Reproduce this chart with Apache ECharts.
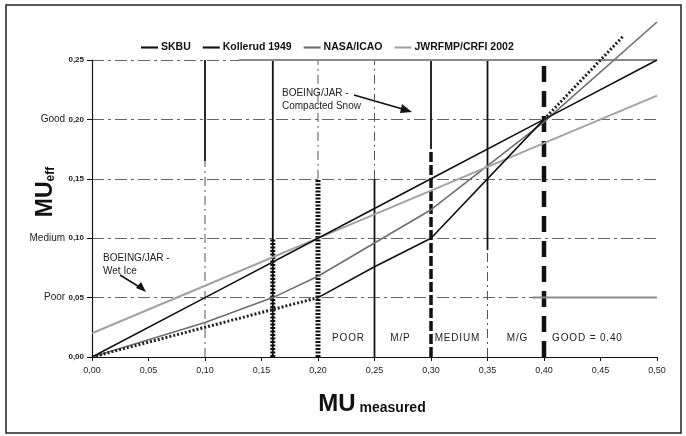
<!DOCTYPE html>
<html>
<head>
<meta charset="utf-8">
<script src="https://cdn.jsdelivr.net/npm/echarts@6.0.0/dist/echarts.min.js"></script>
<style>
  html, body { margin: 0; padding: 0; background: #fff; }
  #chart { width: 686px; height: 436px; }
</style>
</head>
<body>
<div id="chart"></div>
<script>
// series values: [MU measured, MU eff]
var skbuDottedLow = [[0, 0], [0.1, 0.025], [0.16, 0.04], [0.2, 0.05]];
var skbuSolid = [[0.2, 0.05], [0.25, 0.076], [0.3, 0.1], [0.4, 0.2]];
var skbuDottedHigh = [[0.4, 0.2], [0.47, 0.27]];
var kollerud = [[0, 0], [0.1, 0.05], [0.2, 0.1], [0.3, 0.15], [0.4, 0.2], [0.5, 0.25]];
var nasa = [[0, 0], [0.1, 0.029], [0.16, 0.05], [0.2, 0.068], [0.25, 0.096], [0.3, 0.124], [0.4, 0.198], [0.5, 0.282]];
var jwrfmp = [[0, 0.02], [0.1, 0.06], [0.2, 0.1], [0.3, 0.14], [0.4, 0.18], [0.5, 0.22]];

// vertical limit lines: [x, yFrom, yTo]
var thinVerticals = [[0.1, 0.165, 0.25], [0.16, 0, 0.25], [0.25, 0, 0.15], [0.3, 0.175, 0.25], [0.35, 0.09, 0.25]];
var dottedVerticals = [[0.16, 0, 0.1], [0.2, 0, 0.15]];
var dashedVerticals = [[0.3, 0, 0.175], [0.4, 0, 0.245]];
var gridVerticals = [[0.1, 0, 0.165], [0.2, 0.15, 0.25], [0.25, 0.15, 0.25], [0.35, 0, 0.09]];
// gray horizontal limits: [y, xFrom, xTo]
var grayHorizontals = [[0.25, 0.13, 0.5], [0.05, 0.39, 0.5]];

var legendNames = ['SKBU', 'Kollerud 1949', 'NASA/ICAO', 'JWRFMP/CRFI 2002'];
var yTickWords = ['', 'Poor', 'Medium', '', 'Good', ''];
var zoneLabels = ['POOR', 'M/P', 'MEDIUM', 'M/G', 'GOOD = 0.40'];

var myChart = echarts.init(document.getElementById('chart'), null, { renderer: 'canvas' });

function comma(v) {
  return v.toFixed(2).replace('.', ',');
}

function seg(data, style, z) {
  return {
    type: 'line', data: data, symbol: 'none', silent: true, clip: false,
    z: z || 2, lineStyle: style, animation: false
  };
}

var series = [
  { name: 'SKBU', type: 'line', data: skbuSolid, symbol: 'none', color: '#111', lineStyle: { width: 1.6, color: '#111' }, z: 4 },
  { name: 'Kollerud 1949', type: 'line', data: kollerud, symbol: 'none', color: '#111', lineStyle: { width: 1.6, color: '#111' }, z: 4 },
  { name: 'NASA/ICAO', type: 'line', data: nasa, symbol: 'none', clip: false, color: '#6e6e6e', lineStyle: { width: 1.6, color: '#6e6e6e' }, z: 3 },
  { name: 'JWRFMP/CRFI 2002', type: 'line', data: jwrfmp, symbol: 'none', color: '#a2a2a2', lineStyle: { width: 2, color: '#a2a2a2' }, z: 3 },
  seg(skbuDottedLow, { width: 3, color: '#222', type: [2, 2] }, 4),
  seg(skbuDottedHigh, { width: 3, color: '#222', type: [2, 2] }, 4)
];

gridVerticals.forEach(function (v) {
  series.push(seg([[v[0], v[1]], [v[0], v[2]]], { width: 1, color: '#555', type: [9, 4, 2, 4] }, 1));
});
thinVerticals.forEach(function (v) {
  series.push(seg([[v[0], v[1]], [v[0], v[2]]], { width: 1.8, color: '#111' }, 2));
});
dottedVerticals.forEach(function (v) {
  series.push(seg([[v[0], v[1]], [v[0], v[2]]], { width: 5, color: '#111', type: [2, 1.5] }, 2));
});
dashedVerticals.forEach(function (v, i) {
  series.push(seg([[v[0], v[1]], [v[0], v[2]]], { width: i ? 4.5 : 3.5, color: '#111', type: i ? [16, 9] : [10, 3] }, 2));
});
grayHorizontals.forEach(function (h) {
  series.push(seg([[h[1], h[0]], [h[2], h[0]]], { width: 2, color: '#8a8a8a' }, 2));
});

var zoneX = [348, 400, 457, 517, 587];
var graphics = [
  { type: 'rect', shape: { x: 6, y: 5, width: 675, height: 428 }, style: { fill: 'none', stroke: '#222', lineWidth: 1.5 }, silent: true },
  { type: 'text', x: 46, y: 192, rotation: Math.PI / 2,
    style: { text: '{a|MU}{b|eff}', align: 'center', verticalAlign: 'middle',
      rich: { a: { fontSize: 23, fontWeight: 'bold', fill: '#111', fontFamily: 'Liberation Sans' },
              b: { fontSize: 12, fontWeight: 'bold', fill: '#111', fontFamily: 'Liberation Sans', padding: [10, 0, 0, 0] } } } },
  { type: 'text', x: 372, y: 404,
    style: { text: '{a|MU}{b| measured}', align: 'center', verticalAlign: 'middle',
      rich: { a: { fontSize: 24, fontWeight: 'bold', fill: '#111', fontFamily: 'Liberation Sans' },
              b: { fontSize: 14, fontWeight: 'bold', fill: '#111', fontFamily: 'Liberation Sans', padding: [8, 0, 0, 0] } } } },
  { type: 'text', x: 282, y: 87, style: { text: 'BOEING/JAR -\nCompacted Snow', fill: '#222', fontSize: 10, lineHeight: 13, fontFamily: 'Liberation Sans' } },
  { type: 'line', shape: { x1: 354, y1: 95, x2: 406, y2: 110 }, style: { stroke: '#111', lineWidth: 1.8 } },
  { type: 'polygon', shape: { points: [[412, 112], [402, 104], [400, 113]] }, style: { fill: '#111' } },
  { type: 'text', x: 103, y: 252, style: { text: 'BOEING/JAR -\nWet Ice', fill: '#222', fontSize: 10, lineHeight: 13, fontFamily: 'Liberation Sans' } },
  { type: 'line', shape: { x1: 120, y1: 275, x2: 141, y2: 288 }, style: { stroke: '#111', lineWidth: 1.5 } },
  { type: 'polygon', shape: { points: [[146, 292], [136, 288], [141, 282]] }, style: { fill: '#111' } }
];
zoneLabels.forEach(function (t, i) {
  graphics.push({ type: 'text', x: zoneX[i], y: 338,
    style: { text: t.split('').join('\u200a'), fill: '#222', fontSize: 10, align: 'center', verticalAlign: 'middle', fontFamily: 'Liberation Sans' } });
});

var option = {
  backgroundColor: '#fff',
  animation: false,
  grid: { left: 92, right: 29, top: 60, bottom: 79, containLabel: false },
  legend: {
    data: legendNames, top: 37, left: 136, itemGap: 12, itemWidth: 17, itemHeight: 3,
    icon: 'path://M0,0 L20,0 L20,2.5 L0,2.5 Z',
    textStyle: { fontSize: 10.5, fontWeight: 'bold', color: '#111', fontFamily: 'Liberation Sans', padding: [0, 0, 0, -2] }
  },
  xAxis: {
    type: 'value', min: 0, max: 0.5, interval: 0.05,
    axisLine: { lineStyle: { color: '#111', width: 1.2 } },
    axisTick: { show: true, length: 4, lineStyle: { color: '#111' } },
    axisLabel: { formatter: comma, fontSize: 9, color: '#222', margin: 9, fontFamily: 'Liberation Sans' },
    splitLine: { show: false }
  },
  yAxis: {
    type: 'value', min: 0, max: 0.25, interval: 0.05,
    axisLine: { show: true, lineStyle: { color: '#111', width: 1.2 } },
    axisTick: { show: true, length: 5, lineStyle: { color: '#111' } },
    axisLabel: {
      margin: 8, color: '#222', fontFamily: 'Liberation Sans',
      formatter: function (v, i) {
        var w = yTickWords[Math.round(v / 0.05)];
        return (w ? '{w|' + w + '} ' : '') + '{n|' + comma(v) + '}';
      },
      rich: { w: { fontSize: 10, color: '#222' }, n: { fontSize: 8, fontWeight: 'bold', color: '#222' } }
    },
    splitLine: { show: true, lineStyle: { color: '#666', width: 1, type: [12, 4, 3, 4] } }
  },
  graphic: graphics,
  series: series
};

myChart.setOption(option);
</script>
</body>
</html>
